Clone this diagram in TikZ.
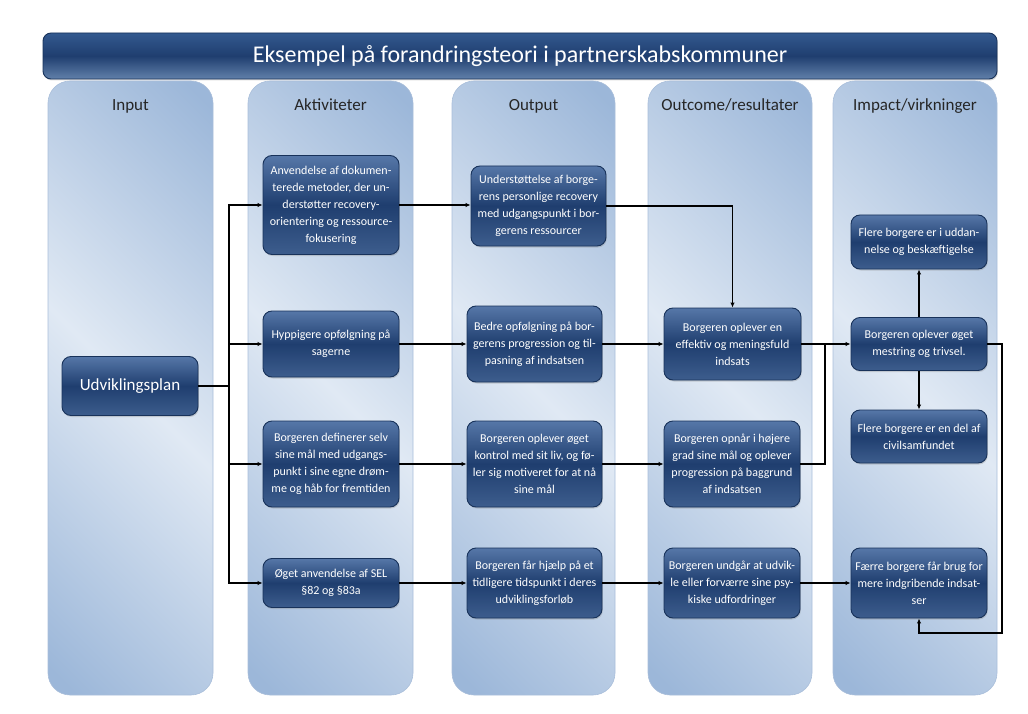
\documentclass[tikz,border=0pt]{standalone}
\usepackage{fontspec}
\setmainfont{Carlito}
\usetikzlibrary{arrows.meta,shadows}
\definecolor{kollys}{HTML}{E0E9F4}
\definecolor{kolmork}{HTML}{9CB7D9}
\definecolor{kolkant}{HTML}{A9BEDA}
\definecolor{bokslys}{HTML}{5677A8}
\definecolor{boksmork}{HTML}{1F3E6F}
\definecolor{boksbund}{HTML}{3D5D8D}
\definecolor{bokskant}{HTML}{18325A}
\definecolor{titellys}{HTML}{33598F}
\definecolor{titelbund}{HTML}{6180AA}
\pgfdeclarehorizontalshading{kolonne}{100bp}{color(0bp)=(kolmork); color(17bp)=(kolmork); color(50bp)=(kollys); color(83bp)=(kolmork); color(100bp)=(kolmork)}

\begin{document}
\begin{tikzpicture}[x=1pt,y=-1pt,
	kolonne/.style={draw=kolkant,line width=.6pt,rounded corners=22pt,shading=kolonne,shading angle=45},
	overskrift/.style={font=\fontsize{17}{20}\selectfont,text=black!85,anchor=base},
	boks/.style={draw=bokskant,line width=.9pt,rounded corners=9pt,top color=bokslys,bottom color=boksbund,middle color=boksmork,
		text=white,align=center,font=\fontsize{12}{17}\selectfont,minimum width=136pt,inner sep=0pt,
		drop shadow={opacity=.3,shadow xshift=.8pt,shadow yshift=-1.5pt}},
	pil/.style={line width=1.4pt,-{Latex[length=5pt,width=4.5pt]}},
	linje/.style={line width=1.4pt}]
	\useasboundingbox (0,0) rectangle (1028,714);
	
	% titel og kolonner
	\node[boks,rounded corners=8pt,top color=titellys,bottom color=titelbund,middle color=boksmork,
		minimum width=954pt,minimum height=46pt,font=\fontsize{24}{28}\selectfont] (titel) at (520,56)
		{Eksempel på forandringsteori i partnerskabskommuner};
	\foreach \xa/\xb/\tekst [count=\i] in {48/213/Input,248/413/Aktiviteter,452/615/Output,
		648/812/{Outcome/resultater},833/997/{Impact/virkninger}}{
		\draw[kolonne] (\xa,81) rectangle (\xb,695);
		\node[overskrift] (kol\i) at ({(\xa+\xb)/2},111) {\tekst};
	}
	
	% input og aktiviteter
	\node[boks,minimum height=59pt,font=\fontsize{17}{20}\selectfont] (udv) at (130,386) {Udviklingsplan};
	\node[boks,minimum height=99pt] (a1) at (331,205) {Anvendelse af dokumen-\\terede metoder, der un-\\derstøtter recovery-\\orientering og ressource-\\fokusering};
	\node[boks,minimum height=66pt] (a2) at (331,344) {Hyppigere opfølgning på\\sagerne};
	\node[boks,minimum height=86pt] (a3) at (331,464) {Borgeren definerer selv\\sine mål med udgangs-\\punkt i sine egne drøm-\\me og håb for fremtiden};
	\node[boks,minimum height=49pt] (a4) at (331,583) {Øget anvendelse af SEL\\§82 og §83a};
	
	% output
	\node[boks,minimum width=135pt,minimum height=80pt] (o1) at (538.5,206) {Understøttelse af borge-\\rens personlige recovery\\med udgangspunkt i bor-\\gerens ressourcer};
	\node[boks,minimum width=135pt,minimum height=76pt] (o2) at (534.5,344) {Bedre opfølgning på bor-\\gerens progression og til-\\pasning af indsatsen};
	\node[boks,minimum width=135pt,minimum height=86pt] (o3) at (534.5,464) {Borgeren oplever øget\\kontrol med sit liv, og fø-\\ler sig motiveret for at nå\\sine mål};
	\node[boks,minimum width=135pt,minimum height=70pt] (o4) at (534.5,583) {Borgeren får hjælp på et\\tidligere tidspunkt i deres\\udviklingsforløb};
	
	% outcome
	\node[boks,minimum width=137pt,minimum height=72pt] (r2) at (732.5,344) {Borgeren oplever en\\effektiv og meningsfuld\\indsats};
	\node[boks,minimum height=86pt] (r3) at (732,464) {Borgeren opnår i højere\\grad sine mål og oplever\\progression på baggrund\\af indsatsen};
	\node[boks,minimum height=70pt] (r4) at (732,583) {Borgeren undgår at udvik-\\le eller forværre sine psy-\\kiske udfordringer};
	
	% impact
	\node[boks,minimum height=54pt] (i1) at (919,242) {Flere borgere er i uddan-\\nelse og beskæftigelse};
	\node[boks,minimum height=53pt] (i2) at (919,344) {Borgeren oplever øget\\mestring og trivsel.};
	\node[boks,minimum height=53pt] (i3) at (919,436.5) {Flere borgere er en del af\\civilsamfundet};
	\node[boks,minimum height=70pt] (i4) at (919,583) {Færre borgere får brug for\\mere indgribende indsat-\\ser};
	
	% forbindelser
	\coordinate (split) at (229,386);
	\coordinate (samling) at (825,344);
	\coordinate (sloejfe) at (1002,633);
	\draw[linje] (udv.east) -- (split);
	\foreach \n in {a1,a2,a3,a4}
		\draw[pil] (split) |- (\n.west);
	\draw[pil] (a1.east) -- (a1.east -| o1.west);
	\draw[pil] (a2) -- (o2);
	\draw[pil] (a3) -- (o3);
	\draw[pil] (a4) -- (o4);
	\draw[pil] (o1.east) -| (r2.north);
	\draw[pil] (o2) -- (r2);
	\draw[pil] (o3) -- (r3);
	\draw[pil] (o4) -- (r4);
	\draw[pil] (r2) -- (i2);
	\draw[linje] (r3.east) -| (samling);
	\draw[pil] (r4) -- (i4);
	\draw[pil] (i2) -- (i1);
	\draw[pil] (i2) -- (i3);
	\draw[pil] (i2.east) -| (sloejfe) -| (i4.south);
\end{tikzpicture}
\end{document}
